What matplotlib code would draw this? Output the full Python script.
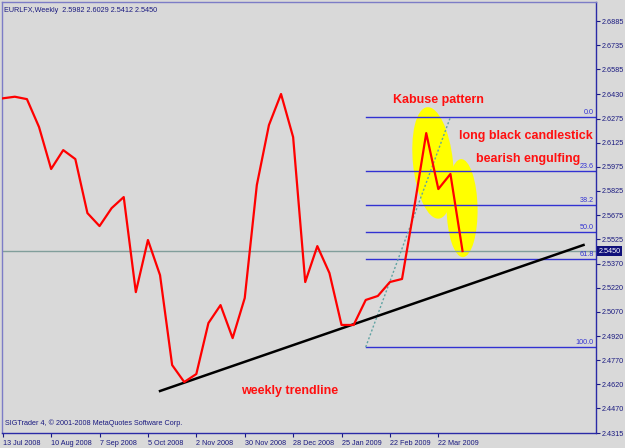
import numpy as np
import matplotlib
matplotlib.use('Agg')
import matplotlib.pyplot as plt
import matplotlib.patches as mpatches
import matplotlib.transforms as mtrans

plt.rcParams['font.family'] = ['Liberation Sans', 'DejaVu Sans']

# weekly closes, 13 Jul 2008 .. 5 Apr 2009
closes = [2.6403, 2.6413, 2.6398, 2.6224, 2.5962, 2.6080, 2.6024, 2.5687,
          2.5606, 2.5718, 2.5787, 2.5194, 2.5519, 2.5300, 2.4739, 2.4633,
          2.4683, 2.5001, 2.5113, 2.4907, 2.5157, 2.5862, 2.6236, 2.6430,
          2.6161, 2.5257, 2.5481, 2.5313, 2.4989, 2.4989, 2.5145, 2.5170,
          2.5257, 2.5276, 2.5718, 2.6186, 2.5837, 2.5931, 2.5450]
last_price = 2.5450
title_text = 'EURLFX,Weekly  2.5982 2.6029 2.5412 2.5450'

date_ticks = [0, 4, 8, 12, 16, 20, 24, 28, 32, 36]
date_labels = ['13 Jul 2008', '10 Aug 2008', '7 Sep 2008', '5 Oct 2008',
               '2 Nov 2008', '30 Nov 2008', '28 Dec 2008', '25 Jan 2009',
               '22 Feb 2009', '22 Mar 2009']
price_ticks = [2.6885, 2.6735, 2.6585, 2.6430, 2.6275, 2.6125, 2.5975, 2.5825,
               2.5675, 2.5525, 2.5370, 2.5220, 2.5070, 2.4920, 2.4770, 2.4620,
               2.4470, 2.4315]

# fibonacci retracement (from week 30 low to week 37 high)
fib_weeks = [30.0, 37.0]
fib_low = 2.4851
fib_high = 2.6286
fib_levels = [0.0, 23.6, 38.2, 50.0, 61.8, 100.0]

# weekly trendline
trend_weeks = [13.0, 48.0]
trend_prices = [2.4577, 2.5488]

# highlighted zones (centre week, centre price)
zone_centres = [(35.56, 2.6000), (37.96, 2.5718)]

bg = '#D9D9D9'
navy = '#1A1A80'

fig = plt.figure(figsize=(6.25, 4.48), dpi=100, facecolor=bg)
ax = fig.add_axes([2 / 625, 15 / 448, 594 / 625, 431 / 448], facecolor=bg)

# yellow ellipses (size given in pixels)
zone_shapes = [(40, 112, 6), (31, 98, 1)]
for (cx, cy), (w, h, ang) in zip(zone_centres, zone_shapes):
    tr = mtrans.Affine2D() + mtrans.ScaledTranslation(cx, cy, ax.transData)
    ax.add_patch(mpatches.Ellipse((0, 0), w, h, angle=ang, transform=tr,
                                  facecolor='#FFFF00', edgecolor='none', zorder=1))

# current price line
ax.axhline(last_price, color='#819E9B', lw=1, zorder=2)

# fib levels
fib_range = fib_high - fib_low
for lv in fib_levels:
    p = fib_high - fib_range * lv / 100.0
    ax.plot([fib_weeks[0], 49.2], [p, p], color='#3232D2', lw=1, zorder=2)
    ax.text(48.85, p + 0.0008, '%.1f' % lv, color='#3232D2', fontsize=5.2,
            ha='right', va='bottom', zorder=3)
ax.plot(fib_weeks, [fib_low, fib_high], color='#5FA3A3', lw=1,
        linestyle=(0, (1.5, 1.5)), zorder=2)

# trendline
ax.plot(trend_weeks, trend_prices, color='black', lw=1.8, zorder=3)

# price
weeks = np.arange(len(closes))
ax.plot(weeks, closes, color='#FF0000', lw=1.6, zorder=4)

# annotations
red = '#FF1010'
ax.text(36.0, 2.6395, 'Kabuse pattern', color=red, fontsize=9, fontweight='bold',
        ha='center', va='center', zorder=5)
ax.text(43.25, 2.6170, 'long black candlestick', color=red, fontsize=9,
        fontweight='bold', ha='center', va='center', zorder=5)
ax.text(47.75, 2.6026, 'bearish engulfing', color=red, fontsize=9,
        fontweight='bold', ha='right', va='center', zorder=5)
ax.text(23.7, 2.4577, 'weekly trendline', color=red, fontsize=9,
        fontweight='bold', ha='center', va='center', zorder=5)

ax.set_xlim(-0.06, 49.03)
ax.set_ylim(2.4315, 2.7004)

ax.set_xticks(date_ticks)
ax.set_xticklabels(date_labels, ha='left')
ax.yaxis.tick_right()
ax.set_yticks(price_ticks)
ax.set_yticklabels(['%.4f' % t for t in price_ticks])
ax.tick_params(axis='both', direction='out', length=3, width=0.8, colors=navy,
               labelsize=5.2, pad=1)
ax.tick_params(axis='x', pad=2)

for side in ['left', 'top']:
    ax.spines[side].set_color('#7C7CC6')
for side in ['right', 'bottom']:
    ax.spines[side].set_color('#2A2AA6')
for s in ax.spines.values():
    s.set_linewidth(1)

# current price box on the axis
ax.text(1.004, last_price, '%.4f' % last_price, color='white', fontsize=5.2,
        ha='left', va='center',
        transform=mtrans.blended_transform_factory(ax.transAxes, ax.transData),
        bbox=dict(boxstyle='square,pad=0.25', facecolor='#10107A', edgecolor='none'),
        clip_on=False, zorder=6)

fig.text(4 / 625, 1 - 10 / 448, title_text, color=navy, fontsize=5.2,
         ha='left', va='center')
fig.text(5 / 625, 1 - 423 / 448, 'SIGTrader 4, \u00a9 2001-2008 MetaQuotes Software Corp.',
         color=navy, fontsize=5.2, ha='left', va='center')

fig.savefig('out.png', dpi=100, facecolor=bg)
